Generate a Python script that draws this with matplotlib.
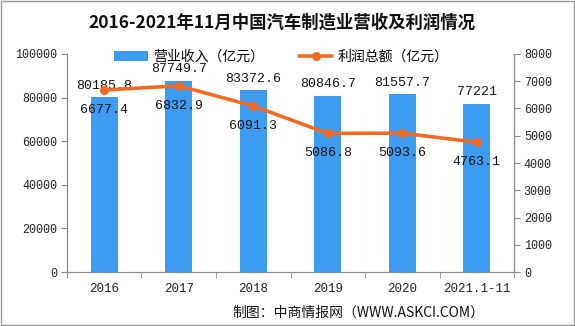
import matplotlib.pyplot as plt
import numpy as np

plt.rcParams['font.family'] = ['Noto Sans CJK SC', 'DejaVu Sans']

years = ['2016', '2017', '2018', '2019', '2020', '2021.1-11']
revenue = [80185.8, 87749.7, 83372.6, 80846.7, 81557.7, 77221]
profit = [6677.4, 6832.9, 6091.3, 5086.8, 5093.6, 4763.1]
rev_labels = ['80185.8', '87749.7', '83372.6', '80846.7', '81557.7', '77221']
profit_labels = ['6677.4', '6832.9', '6091.3', '5086.8', '5093.6', '4763.1']

bar_color = '#3D9BF0'
line_color = '#F26B22'
mono = ['Liberation Mono', 'DejaVu Sans Mono']

fig = plt.figure(figsize=(5.75, 3.26), dpi=100)
ax = fig.add_axes([0.1165, 0.1656, 0.7775, 0.6688])
ax2 = ax.twinx()

x = np.arange(len(years))
ax.bar(x, revenue, width=0.36, color=bar_color, zorder=2, label='营业收入（亿元）')
ax2.plot(x, profit, color=line_color, lw=2.6, marker='o', ms=5.5, zorder=3,
         solid_joinstyle='round', solid_capstyle='round', label='利润总额（亿元）')

ax.set_xlim(-0.5, len(years) - 0.5)
ax.set_ylim(0, 100000)
ax2.set_ylim(0, 8000)
ax.set_yticks(np.arange(0, 100001, 20000))
ax2.set_yticks(np.arange(0, 8001, 1000))

for a in (ax, ax2):
    a.spines['top'].set_visible(False)
    for s in ('left', 'right', 'bottom'):
        a.spines[s].set_color('#888888')
        a.spines[s].set_linewidth(0.8)
    a.tick_params(axis='y', labelsize=8.5, colors='#222222', length=4, color='#888888',
                  width=0.8, pad=3)

ax.set_xticks(x)
ax.set_xticklabels(years, fontsize=9, family=mono)
ax.set_xticks(np.arange(-0.5, len(years), 1), minor=True)
ax.tick_params(axis='x', which='major', length=0, pad=8, colors='#222222')
ax.tick_params(axis='x', which='minor', length=4, color='#888888', direction='out')
for lab in ax.get_yticklabels() + ax2.get_yticklabels():
    lab.set_family(mono)

for xi, v, t in zip(x, revenue, rev_labels):
    ax.annotate(t, (xi, v), xytext=(0, 4), textcoords='offset points',
                ha='center', va='bottom', fontsize=9.5, family=mono, color='#111111', zorder=5)
for xi, v, t in zip(x, profit, profit_labels):
    ax2.annotate(t, (xi, v), xytext=(0, -10), textcoords='offset points',
                 ha='center', va='top', fontsize=9.5, family=mono, color='#111111', zorder=5)

h1, l1 = ax.get_legend_handles_labels()
h2, l2 = ax2.get_legend_handles_labels()
fig.legend(h1 + h2, l1 + l2, loc='center', bbox_to_anchor=(0.49, 0.826), ncol=2,
           frameon=False, fontsize=10, handlelength=2.4, columnspacing=2.5,
           handletextpad=0.4, borderpad=0.1)

fig.text(0.49, 0.93, '2016-2021年11月中国汽车制造业营收及利润情况', ha='center', va='center',
         fontsize=12.5, fontweight='bold', color='#111111')
fig.text(0.843, 0.042, '制图：中商情报网（WWW.ASKCI.COM）', ha='right', va='center',
         fontsize=10, color='#111111')

fig.patches.append(plt.Rectangle((0.002, 0.003), 0.996, 0.994, transform=fig.transFigure,
                                 fill=False, edgecolor='#999999', lw=1))

fig.savefig('out.png', dpi=100)
